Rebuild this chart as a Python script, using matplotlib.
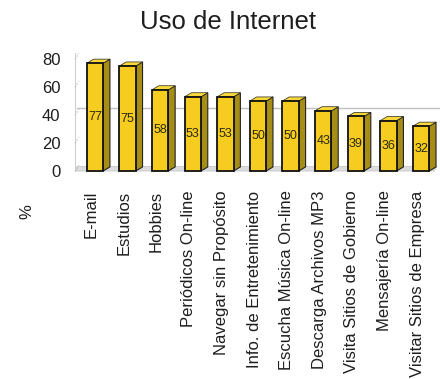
import matplotlib.pyplot as plt
import numpy as np
from matplotlib.patches import Polygon, Rectangle

plt.rcParams["font.family"] = ["Liberation Sans", "DejaVu Sans"]

# data
categorias = ["E-mail", "Estudios", "Hobbies", "Periódicos On-line",
              "Navegar sin Propósito", "Info. de Entretenimiento",
              "Escucha Música On-line", "Descarga Archivos MP3",
              "Visita Sitios de Gobierno", "Mensajería On-line",
              "Visitar Sitios de Empresa"]
valores = [77, 75, 58, 53, 53, 50, 50, 43, 39, 36, 32]
yticks = [0, 20, 40, 60, 80]

frente = "#f6cc20"
lado = "#a68e16"
tapa = "#f9d93a"
texto = "#1e1e1e"

fig = plt.figure(figsize=(4.4, 3.79), dpi=100)
ax = fig.add_axes([77 / 440, 1 - 171 / 379, 360 / 440, 112 / 379])
ax.set_xlim(-0.55, 10.49)
ax.set_ylim(0, 80)

dx, dy = 0.21, 2.9   # 3d depth of the bars
w = 0.25

# floor and back wall
ax.add_patch(Polygon([(-0.6, 0), (10.4, 0), (10.49, 3.2), (-0.55, 3.2)],
                     closed=True, fc="#dcdcdc", ec="#c8c8c8", lw=0.6,
                     clip_on=False, zorder=1))
ax.plot([-0.6, -0.6], [0, 84], color="#d0d0d0", lw=0.8, clip_on=False, zorder=1)
for t in yticks:
    ax.plot([-0.6, -0.5], [t, t + 4], color="#b0b0b0", lw=0.8, ls=":",
            clip_on=False, zorder=1)
ax.plot([-0.55, 10.6], [45, 45], color="#c0c0c0", lw=1.0, clip_on=False, zorder=1)

x = np.arange(len(valores))
for xi, v in zip(x, valores):
    ax.add_patch(Polygon([(xi + w, 0), (xi + w + dx, dy), (xi + w + dx, v + dy), (xi + w, v)],
                         closed=True, fc=lado, ec="#222222", lw=0.8, zorder=3, clip_on=False))
    ax.add_patch(Polygon([(xi - w, v), (xi - w + dx, v + dy), (xi + w + dx, v + dy), (xi + w, v)],
                         closed=True, fc=tapa, ec="#222222", lw=0.5, zorder=3, clip_on=False))
    ax.add_patch(Rectangle((xi - w, 0), 2 * w, v, fc=frente, ec="#111111",
                           lw=1.3, zorder=4, clip_on=False))
    ax.text(xi, v / 2, str(v), ha="center", va="center", fontsize=9,
            color="#2a2a10", zorder=5)

for s in ax.spines.values():
    s.set_visible(False)
ax.set_yticks(yticks)
ax.set_yticklabels([str(t) for t in yticks], fontsize=12, color=texto)
ax.tick_params(axis="y", length=0, pad=12)
ax.set_xticks(x - 0.12)
ax.set_xticklabels(categorias, rotation=90, fontsize=12, color=texto)
ax.tick_params(axis="x", length=0, pad=14)

fig.text(228 / 440, 1 - 22 / 379, "Uso de Internet", ha="center", va="center",
         fontsize=18.5, color=texto)
fig.text(27 / 440, 1 - 212 / 379, "%", ha="center", va="center", rotation=90,
         fontsize=12, color=texto)

fig.savefig("out.png", dpi=100)
